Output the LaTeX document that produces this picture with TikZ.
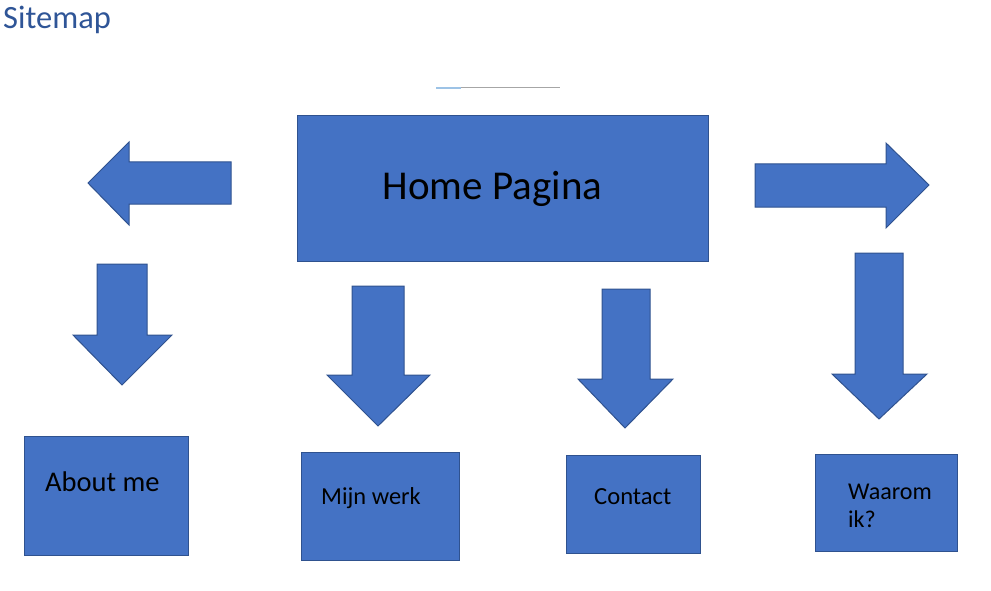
\documentclass[tikz,border=0pt]{standalone}
\usepackage{fontspec}
\setmainfont{Carlito}
\definecolor{fillblue}{HTML}{4472C4}
\definecolor{edgeblue}{HTML}{2F528F}
\definecolor{titleblue}{HTML}{2F5597}
\definecolor{lineblue}{HTML}{9DC3E6}
\definecolor{linegrey}{HTML}{A6A6A6}
\tikzset{
  shp/.style={fill=fillblue, draw=edgeblue, line width=1pt, line join=miter},
  box/.style={shp, rectangle, inner sep=0pt, anchor=north west},
  lbl/.style={anchor=base west, inner sep=0pt, text=black}
}
\begin{document}
\begin{tikzpicture}[x=1pt,y=-1pt]
\useasboundingbox (0,0) rectangle (991,591);
% title
\node[anchor=base west, inner sep=0pt, text=titleblue, font=\fontsize{32.5}{36}\selectfont] (title) at (3,29) {Sitemap};
% thin line
\draw[linegrey, line width=1pt] (461,88) -- (560,88);
\draw[lineblue, line width=1.2pt] (436,88) -- (461,88);
% home box
\node[box, minimum width=411pt, minimum height=146pt] (home) at (297,115) {};
\node[anchor=base, inner sep=0pt, font=\fontsize{41}{45}\selectfont] (hometxt) at (492.5,200) {Home Pagina};
% side arrows
\draw[shp] (88,183) -- (129,142) -- (129,162) -- (231,162) -- (231,204) -- (129,204) -- (129,225) -- cycle;
\draw[shp] (929,185) -- (886,143) -- (886,164) -- (755,164) -- (755,207) -- (886,207) -- (886,228) -- cycle;
% down arrows
\draw[shp] (122,385) -- (73,335) -- (97,335) -- (97,264) -- (147,264) -- (147,335) -- (172,335) -- cycle;
\draw[shp] (378,426) -- (327,375) -- (352,375) -- (352,286) -- (404,286) -- (404,375) -- (430,375) -- cycle;
\draw[shp] (625,428) -- (578,379) -- (602,379) -- (602,289) -- (650,289) -- (650,379) -- (673,379) -- cycle;
\draw[shp] (879,419) -- (832,374) -- (855,374) -- (855,253) -- (903,253) -- (903,374) -- (927,374) -- cycle;
% bottom boxes
\node[box, minimum width=164pt, minimum height=119pt] (about) at (24,436) {};
\node[lbl, font=\fontsize{28.5}{32}\selectfont] (abouttxt) at (45,491) {About me};
\node[box, minimum width=158pt, minimum height=108pt] (werk) at (301,452) {};
\node[lbl, font=\fontsize{24.4}{28}\selectfont] (werktxt) at (321,504) {Mijn werk};
\node[box, minimum width=134pt, minimum height=98pt] (contact) at (566,455) {};
\node[lbl, font=\fontsize{24.6}{28}\selectfont] (contacttxt) at (594,504) {Contact};
\node[box, minimum width=142pt, minimum height=97pt] (waarom) at (815,454) {};
\node[lbl, font=\fontsize{24.1}{28}\selectfont] (waaromtxt) at (848,499) {Waarom};
\node[lbl, font=\fontsize{24.1}{28}\selectfont] (iktxt) at (848,527) {ik?};
\end{tikzpicture}
\end{document}
